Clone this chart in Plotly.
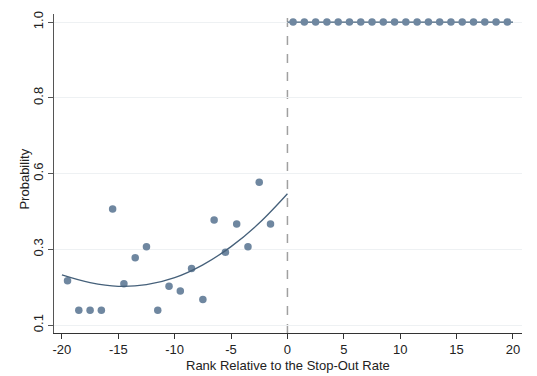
import plotly.graph_objects as go

# Left side (below stop-out rate) binned observations
left_x = [-19.5, -18.5, -17.5, -16.5, -15.5, -14.5, -13.5, -12.5, -11.5, -10.5,
          -9.5, -8.5, -7.5, -6.5, -5.5, -4.5, -3.5, -2.5, -1.5]
left_y = [0.232, 0.144, 0.144, 0.144, 0.445, 0.223, 0.300, 0.333, 0.144, 0.215,
          0.201, 0.268, 0.176, 0.412, 0.316, 0.400, 0.333, 0.524, 0.400]

# Right side (above stop-out rate)
right_x = [0.5, 1.5, 2.5, 3.5, 4.5, 5.5, 6.5, 7.5, 8.5, 9.5,
           10.5, 11.5, 12.5, 13.5, 14.5, 15.5, 16.5, 17.5, 18.5, 19.5]
right_y = [1.0] * 20

# Fitted curves
left_fit_x = [-20, -17.5, -15, -12.5, -10, -7.5, -5, -2.5, 0]
left_fit_y = [0.249, 0.226, 0.215, 0.220, 0.241, 0.279, 0.333, 0.403, 0.490]
right_fit_x = [0, 20]
right_fit_y = [1.0, 1.0]

y_tickvals = [0.1, 0.325, 0.55, 0.775, 1.0]
y_ticktext = ["0.1", "0.3", "0.6", "0.8", "1.0"]
x_tickvals = [-20, -15, -10, -5, 0, 5, 10, 15, 20]
x_ticktext = ["-20", "-15", "-10", "-5", "0", "5", "10", "15", "20"]

x_title = "Rank Relative to the Stop-Out Rate"
y_title = "Probability"

MARKER = "#6f87a0"
LINE = "#45607a"
FONT = "Liberation Sans, Arial, Helvetica, sans-serif"

fig = go.Figure()
fig.add_trace(go.Scatter(x=left_x, y=left_y, mode="markers",
                         marker=dict(color=MARKER, size=7.5), showlegend=False))
fig.add_trace(go.Scatter(x=left_fit_x, y=left_fit_y, mode="lines", line_shape="spline",
                         line=dict(color=LINE, width=1.3), showlegend=False))
fig.add_trace(go.Scatter(x=right_fit_x, y=right_fit_y, mode="lines",
                         line=dict(color=LINE, width=1.3), showlegend=False))
fig.add_trace(go.Scatter(x=right_x, y=right_y, mode="markers",
                         marker=dict(color=MARKER, size=7.5), showlegend=False))

fig.add_shape(type="line", x0=0, x1=0, y0=0, y1=1, xref="x", yref="paper",
              line=dict(color="#a0a0a0", width=1.5, dash="dash"), layer="below")

fig.add_annotation(text=x_title, xref="paper", yref="paper", x=0.5, y=0,
                   xanchor="center", yanchor="middle", yshift=-32, showarrow=False,
                   font=dict(family=FONT, size=13, color="#222222"))
fig.add_annotation(text=y_title, xref="paper", yref="paper", x=0, y=0.481,
                   xanchor="center", yanchor="middle", xshift=-29, textangle=-90,
                   showarrow=False, font=dict(family=FONT, size=13, color="#222222"))

fig.update_layout(
    width=537, height=376,
    margin=dict(l=54, r=15, t=11, b=43),
    paper_bgcolor="white", plot_bgcolor="white",
    font=dict(family=FONT, size=13, color="#222222"),
    xaxis=dict(range=[-20.7, 20.8], tickvals=x_tickvals, ticktext=x_ticktext,
               showgrid=False, zeroline=False, showline=True, linecolor="#333333",
               linewidth=1, ticks="outside", ticklen=5, tickcolor="#333333",
               ticklabelstandoff=-1, tickfont=dict(size=13)),
    yaxis=dict(range=[0.0765, 1.024], tickvals=y_tickvals, ticktext=y_ticktext,
               showgrid=True, gridcolor="#eef1f3", gridwidth=1, zeroline=False,
               showline=True, linecolor="#555555", linewidth=1,
               ticks="outside", ticklen=5, tickcolor="#555555", tickangle=-90,
               tickfont=dict(size=13)),
)

fig.write_html("out.html")
